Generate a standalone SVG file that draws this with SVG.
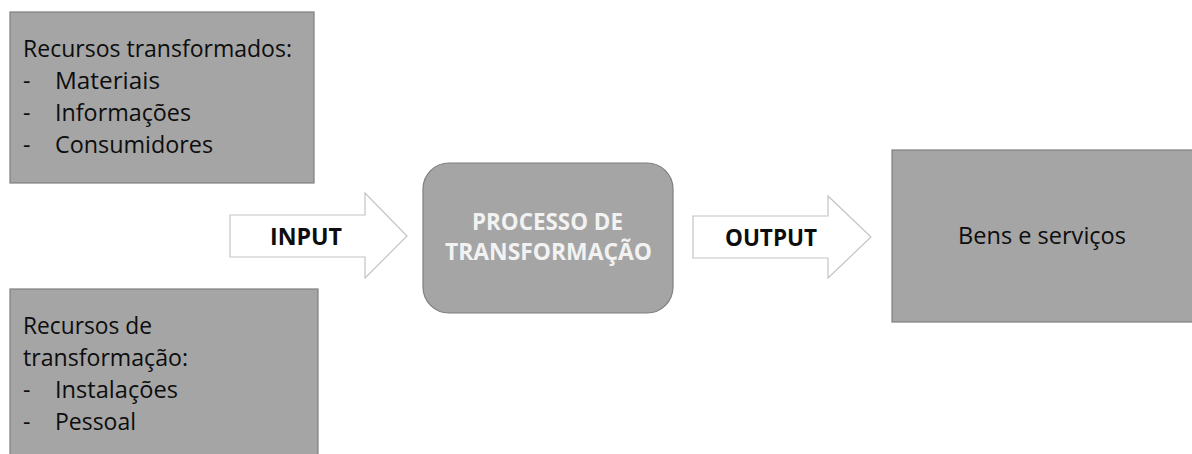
<svg xmlns="http://www.w3.org/2000/svg" width="1192" height="454" viewBox="0 0 1192 454">
<style>
.box{fill:#a5a5a5;stroke:#7f7f7f;stroke-width:1.2}
.arrow{fill:#ffffff;stroke:#c4c4c4;stroke-width:1.2}
.t{font-family:"Open Sans","Liberation Sans",sans-serif;font-size:23px;fill:#0d0d0d}
.b{font-family:"Open Sans","Liberation Sans",sans-serif;font-size:23px;font-weight:bold;fill:#0d0d0d}
.w{font-family:"Open Sans","Liberation Sans",sans-serif;font-size:23px;font-weight:bold;fill:#f2f2f2}
</style>
<rect width="1192" height="454" fill="#ffffff"/>
<g id="recursos-transformados">
<rect class="box" x="10" y="12" width="304" height="171"/>
<text class="t" x="23" y="57" textLength="269" lengthAdjust="spacingAndGlyphs">Recursos transformados:</text>
<text class="t" x="23" y="89">-</text>
<text class="t" x="55" y="89" textLength="105" lengthAdjust="spacingAndGlyphs">Materiais</text>
<text class="t" x="23" y="121">-</text>
<text class="t" x="55" y="121" textLength="136" lengthAdjust="spacingAndGlyphs">Informações</text>
<text class="t" x="23" y="153">-</text>
<text class="t" x="55" y="153" textLength="158" lengthAdjust="spacingAndGlyphs">Consumidores</text>
</g>
<g id="recursos-transformacao">
<rect class="box" x="10" y="289" width="308" height="175"/>
<text class="t" x="23" y="334" textLength="129" lengthAdjust="spacingAndGlyphs">Recursos de</text>
<text class="t" x="23" y="366" textLength="165" lengthAdjust="spacingAndGlyphs">transformação:</text>
<text class="t" x="23" y="398">-</text>
<text class="t" x="55" y="398" textLength="123" lengthAdjust="spacingAndGlyphs">Instalações</text>
<text class="t" x="23" y="430">-</text>
<text class="t" x="55" y="430" textLength="81" lengthAdjust="spacingAndGlyphs">Pessoal</text>
</g>
<g id="connectors">
<g id="input">
<polygon class="arrow" points="230,215 365,215 365,193 407,236 365,278 365,257 230,257"/>
<text class="b" x="270" y="245" textLength="72" lengthAdjust="spacingAndGlyphs">INPUT</text>
</g>
<g id="output">
<polygon class="arrow" points="693,216 828,216 828,196 871,237 828,278 828,258 693,258"/>
<text class="b" x="725" y="246" textLength="92" lengthAdjust="spacingAndGlyphs">OUTPUT</text>
</g>
</g>
<g id="processo">
<rect class="box" x="423" y="163" width="250" height="150" rx="26" ry="26"/>
<text class="w" x="472" y="230" textLength="151" lengthAdjust="spacingAndGlyphs">PROCESSO DE</text>
<text class="w" x="445" y="260" textLength="207" lengthAdjust="spacingAndGlyphs">TRANSFORMAÇÃO</text>
</g>
<g id="bens">
<rect class="box" x="892" y="150" width="310" height="172"/>
<text class="t" x="958" y="244" textLength="168" lengthAdjust="spacingAndGlyphs">Bens e serviços</text>
</g>
</svg>
